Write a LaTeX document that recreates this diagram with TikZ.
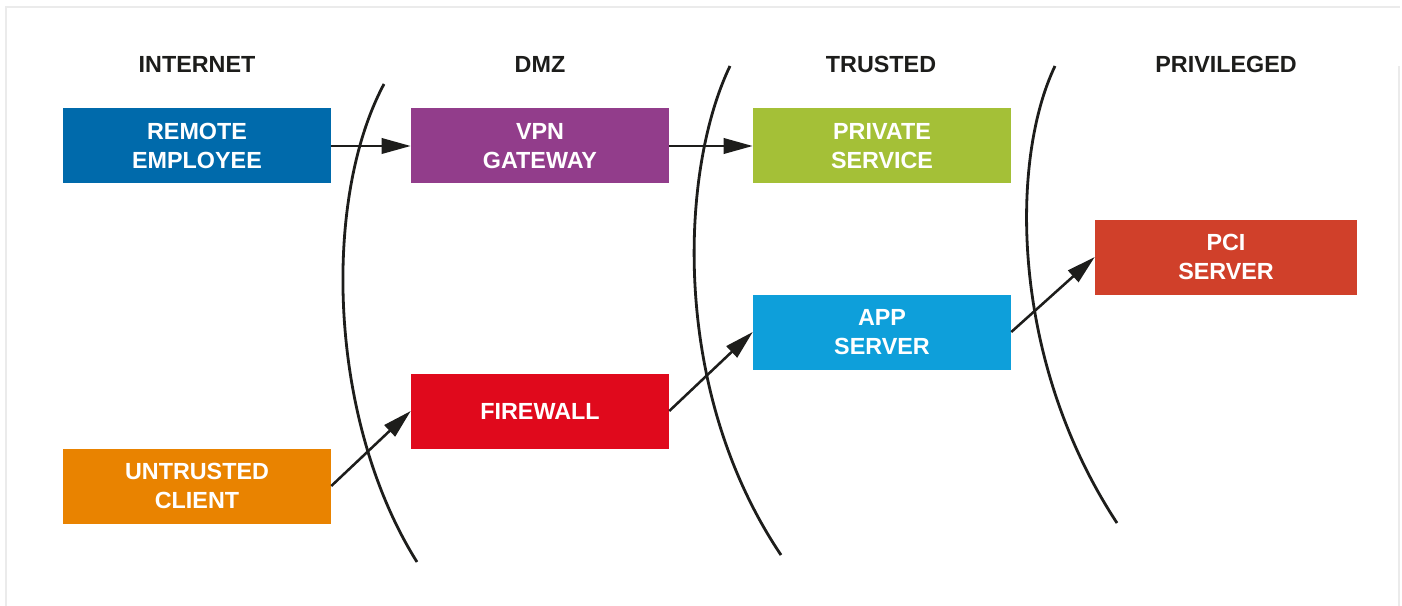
\documentclass[tikz,border=0pt]{standalone}
\usepackage{fontspec}
\setmainfont{Liberation Sans}
\usetikzlibrary{arrows.meta}
\definecolor{ink}{HTML}{1D1D1B}
\definecolor{cRemote}{HTML}{006AAB}
\definecolor{cVpn}{HTML}{923D8B}
\definecolor{cPrivate}{HTML}{A4C037}
\definecolor{cPci}{HTML}{D0402A}
\definecolor{cApp}{HTML}{0E9FDA}
\definecolor{cFire}{HTML}{E0091C}
\definecolor{cUntrusted}{HTML}{E98300}
\definecolor{frameGray}{HTML}{EBEBEB}
\tikzset{
  zonebox/.style={fill=#1, draw=none, inner sep=0pt, text=white, align=center,
    font=\bfseries\fontsize{17.5}{21.75}\selectfont},
  header/.style={inner sep=0pt, text=ink, font=\bfseries\fontsize{17.5}{21.75}\selectfont, anchor=base},
  zoneline/.style={draw=ink, line width=2.1pt},
  flow/.style={draw=ink, line width=1.9pt, -{Triangle[length=21.75pt, width=11.5pt]}},
  framerule/.style={draw=frameGray, line width=1.5pt}
}
\begin{document}
\begin{tikzpicture}[x=0.75pt, y=-0.75pt]
\useasboundingbox (0,0) rectangle (1402,606);
% frame
\coordinate (f1) at (5,7);
\coordinate (f2) at (1400,7);
\coordinate (f3) at (6,7);
\coordinate (f4) at (6,606);
\coordinate (f5) at (1399,66);
\coordinate (f6) at (1399,606);
\draw[framerule] (f1) -- (f2);
\draw[framerule] (f3) -- (f4);
\draw[framerule] (f5) -- (f6);
% headers
\node[header] (hInternet) at (197,72.5) {INTERNET};
\node[header] (hDmz) at (540,72.5) {DMZ};
\node[header] (hTrusted) at (881,72.5) {TRUSTED};
\node[header] (hPriv) at (1226,72.5) {PRIVILEGED};
% zone boundaries
\draw[zoneline] (384,84) .. controls (322,200) and (328,420) .. (417,562);
\draw[zoneline] (730,66) .. controls (680,170) and (670,390) .. (781,555);
\draw[zoneline] (1055,66) .. controls (1010,160) and (1010,360) .. (1117,523);
% boxes
\node[zonebox=cRemote, minimum width=201pt, minimum height=56.25pt] (remote) at (197,146) {REMOTE\\EMPLOYEE};
\node[zonebox=cVpn, minimum width=193.5pt, minimum height=56.25pt] (vpn) at (540,146) {VPN\\GATEWAY};
\node[zonebox=cPrivate, minimum width=193.5pt, minimum height=56.25pt] (private) at (882,146) {PRIVATE\\SERVICE};
\node[zonebox=cPci, minimum width=196.5pt, minimum height=56.25pt] (pci) at (1226,257) {PCI\\SERVER};
\node[zonebox=cApp, minimum width=193.5pt, minimum height=56.25pt] (app) at (882,332) {APP\\SERVER};
\node[zonebox=cFire, minimum width=193.5pt, minimum height=56.25pt] (fire) at (540,411) {FIREWALL};
\node[zonebox=cUntrusted, minimum width=201pt, minimum height=56.25pt] (untrusted) at (197,486) {UNTRUSTED\\CLIENT};
% flows
\draw[flow] (remote.east) -- (vpn.west);
\draw[flow] (vpn.east) -- (private.west);
\draw[flow] (untrusted.east) -- (fire.west);
\draw[flow] (fire.east) -- (app.west);
\draw[flow] (app.east) -- (pci.west);
\end{tikzpicture}
\end{document}
